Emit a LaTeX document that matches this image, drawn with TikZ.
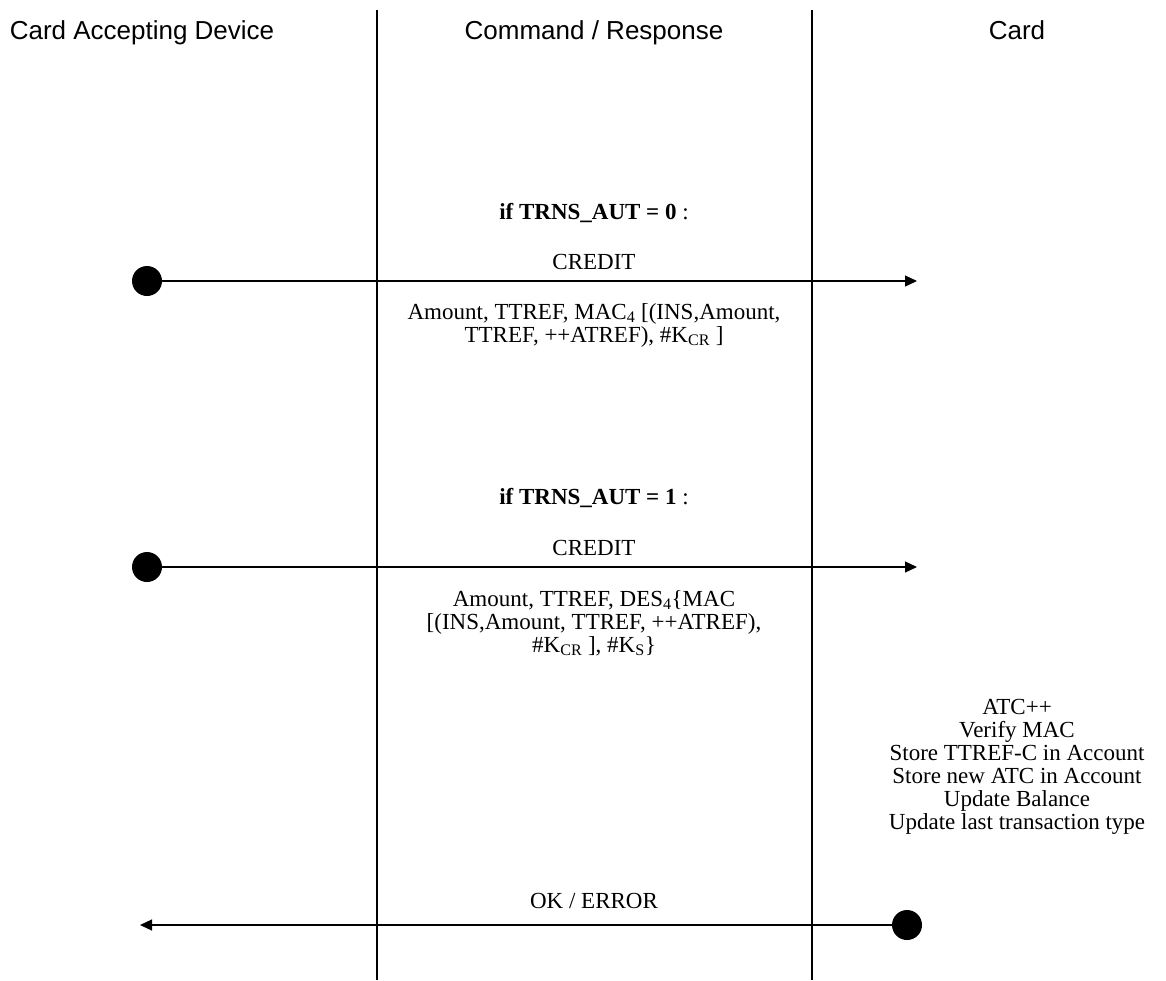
\documentclass[tikz,border=0pt]{standalone}
\usepackage{fontspec}
\setmainfont{Liberation Serif}
\newfontfamily\headfont{Liberation Sans}
\usetikzlibrary{arrows.meta}

\tikzset{
	colhead/.style={font=\headfont\fontsize{26}{30}\selectfont, inner sep=0pt, anchor=base},
	msg/.style={font=\fontsize{23}{23}\selectfont, align=center, inner sep=0pt},
	enddot/.style={circle, fill=black, minimum size=30pt, inner sep=0pt},
	flow/.style={line width=1.2pt, -{Triangle[length=12pt,width=11pt]}},
	lane/.style={line width=1.3pt},
}

\begin{document}
\begin{tikzpicture}[x=1pt,y=-1pt]
		%%%%% START %%%%%
		\useasboundingbox (0,0) rectangle (1166,980);
		
		% column heads
		\node[colhead] (cadhead) at (142, 39) {Card Accepting Device};
		\node[colhead] (cmdhead) at (594, 39) {Command / Response};
		\node[colhead] (cardhead) at (1017, 39) {Card};
		
		% lanes
		\coordinate (laneAtop) at (377, 10);
		\coordinate (laneAbot) at (377, 980);
		\coordinate (laneBtop) at (812, 10);
		\coordinate (laneBbot) at (812, 980);
		\draw[lane] (laneAtop) -- (laneAbot);
		\draw[lane] (laneBtop) -- (laneBbot);
		
		% first case
		\node[msg] (caseA) at (594, 213) {\textbf{if TRNS\_AUT = 0} :};
		\node[msg] (creditA) at (594, 262) {CREDIT};
		\node[enddot] (cadA) at (147, 281) {};
		\coordinate (cardA) at (917, 281);
		\draw[flow] (cadA) -- (cardA);
		\node[msg] (dataA) at (594, 325) {Amount, TTREF, MAC\textsubscript{4} [(INS,Amount,\\TTREF, ++ATREF), \#K\textsubscript{CR} ]};
		
		% second case
		\node[msg] (caseB) at (594, 498) {\textbf{if TRNS\_AUT = 1} :};
		\node[msg] (creditB) at (594, 548) {CREDIT};
		\node[enddot] (cadB) at (147, 567) {};
		\coordinate (cardB) at (917, 567);
		\draw[flow] (cadB) -- (cardB);
		\node[msg] (dataB) at (594, 623) {Amount, TTREF, DES\textsubscript{4}\{MAC\\{}[(INS,Amount, TTREF, ++ATREF),\\\#K\textsubscript{CR} ], \#K\textsubscript{S}\}};
		
		% card side
		\node[msg] (cardwork) at (1017, 767) {ATC++\\Verify MAC\\Store TTREF-C in Account\\Store new ATC in Account\\Update Balance\\Update last transaction type};
		
		% answer
		\node[msg] (answer) at (594, 901) {OK / ERROR};
		\node[enddot] (cardC) at (907, 925) {};
		\coordinate (cadC) at (140, 925);
		\draw[flow] (cardC) -- (cadC);
		
		%%%%% END %%%%%
\end{tikzpicture}
\end{document}
